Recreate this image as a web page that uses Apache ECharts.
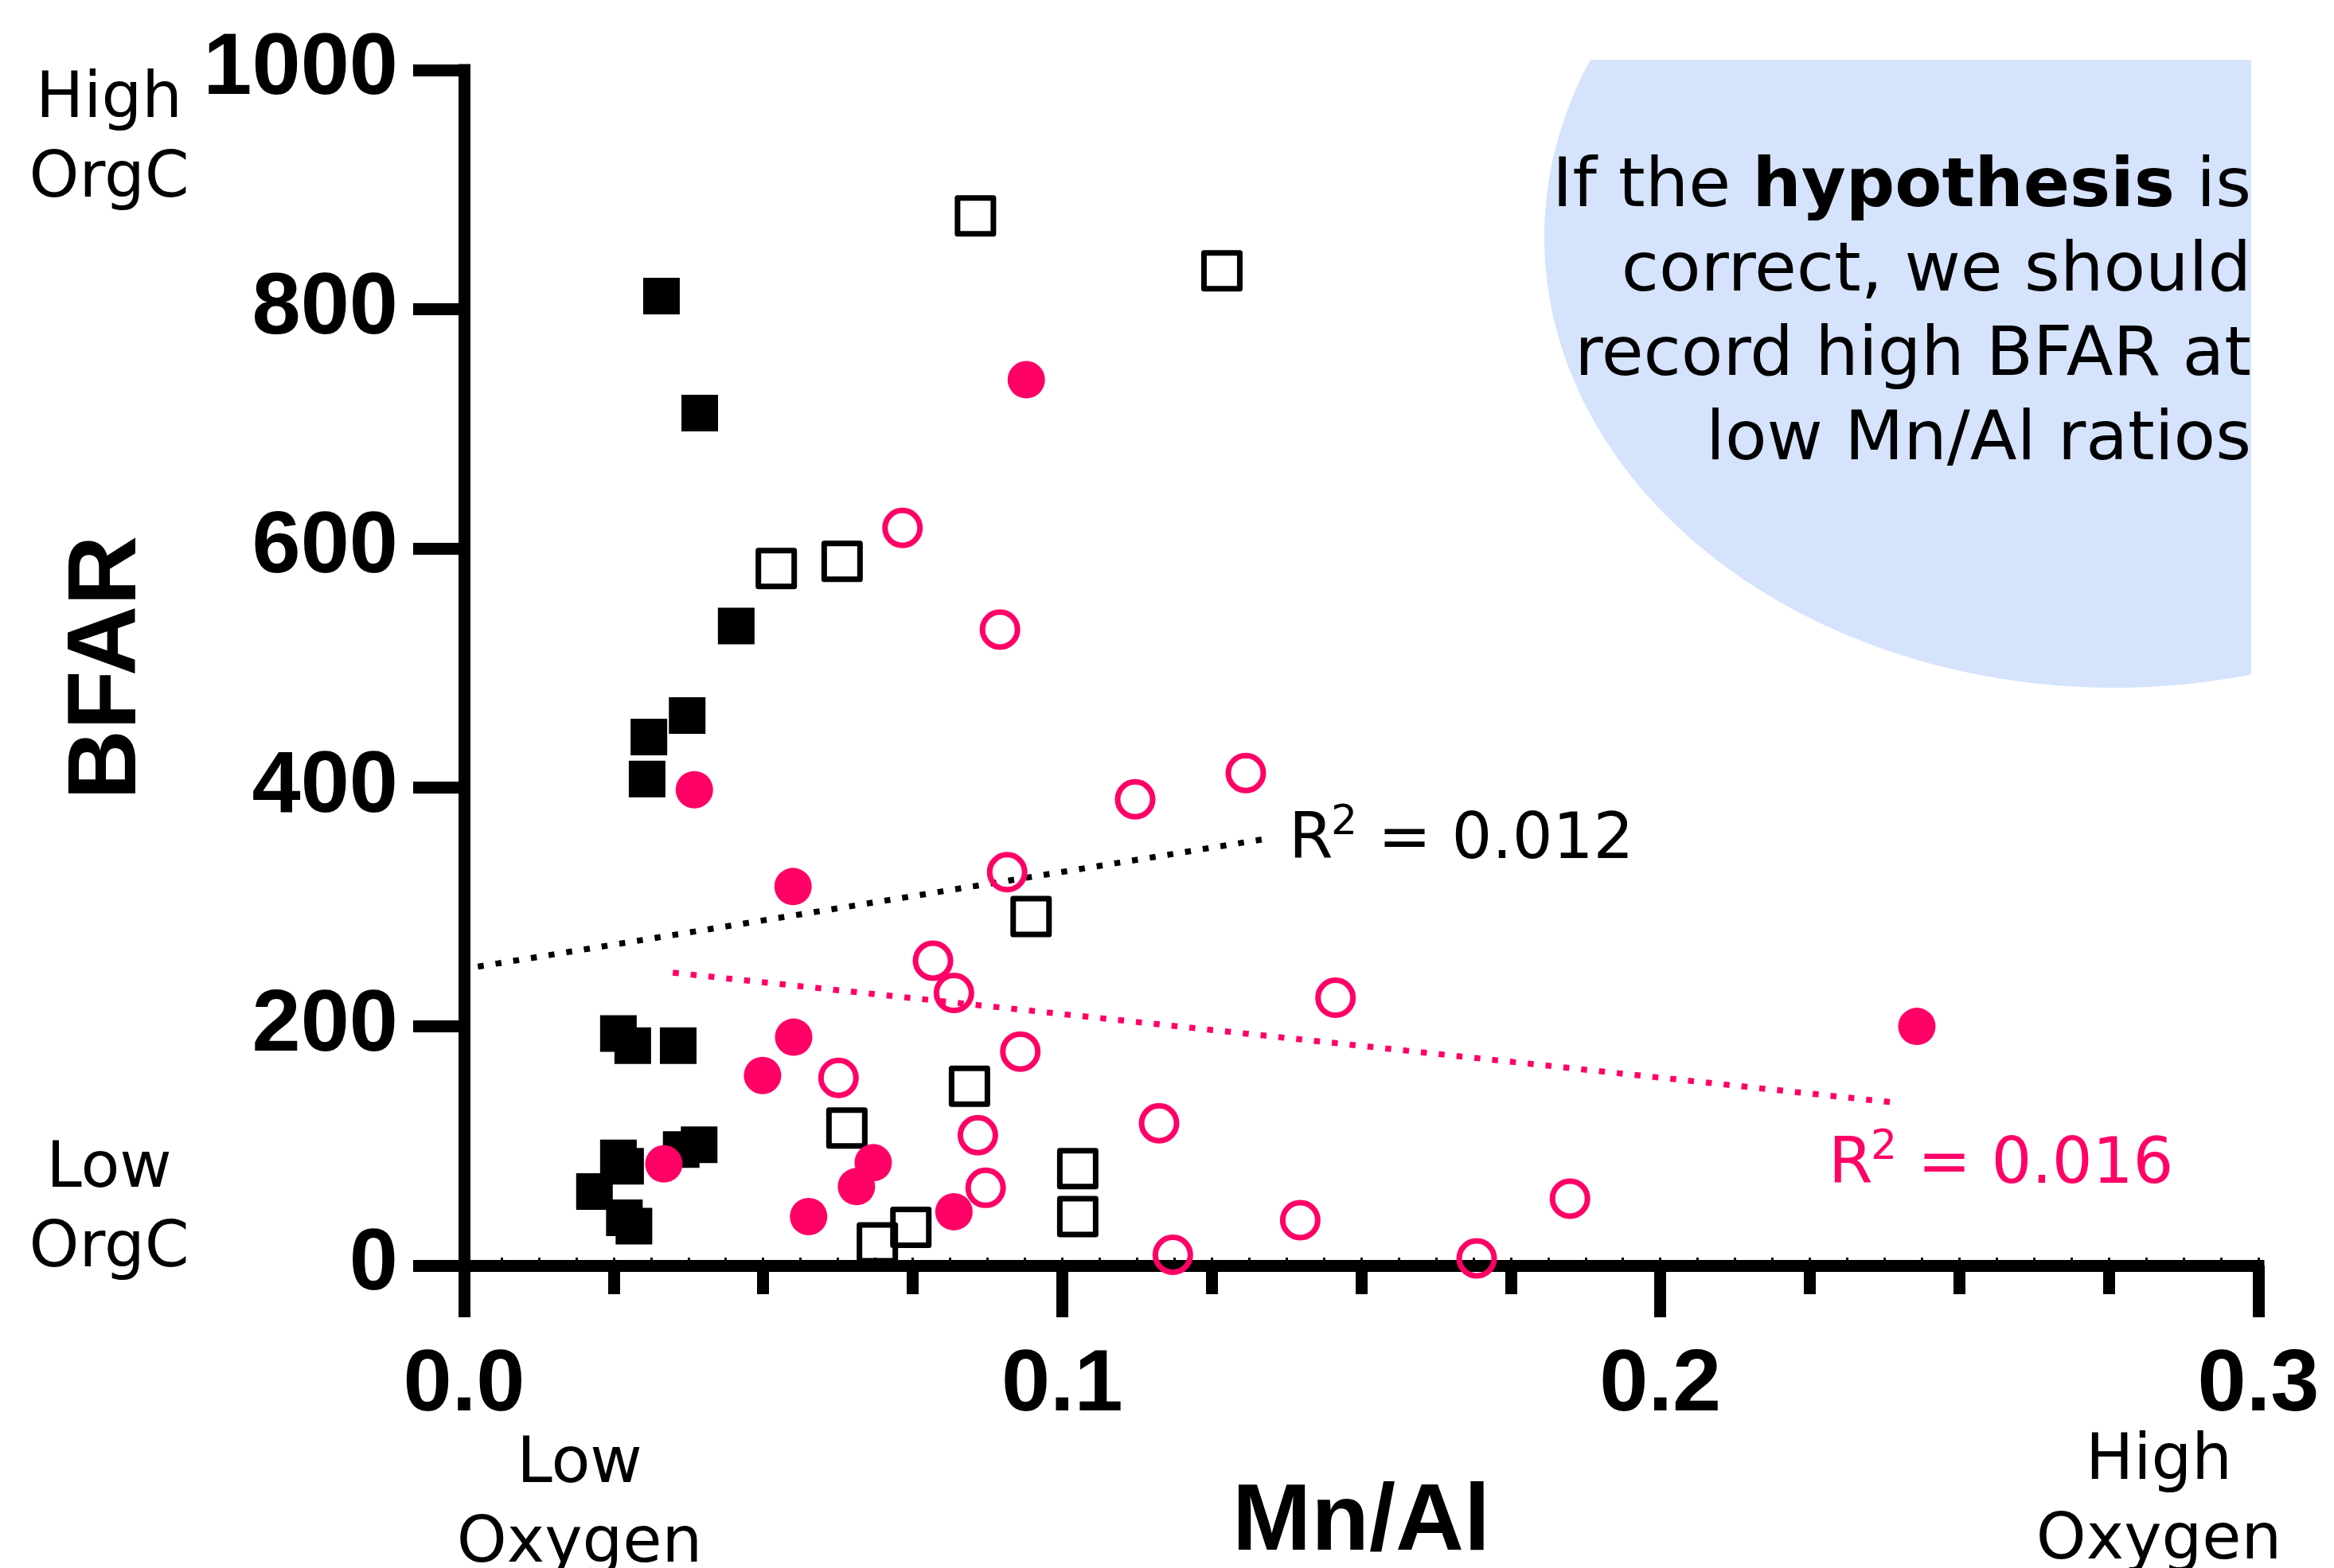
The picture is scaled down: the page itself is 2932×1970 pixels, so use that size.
<!DOCTYPE html>
<html><head><meta charset="utf-8">
<script src="https://cdn.jsdelivr.net/npm/echarts@6/dist/echarts.min.js"></script>
<style>html,body{margin:0;padding:0;background:#fff}#c{width:2932px;height:1970px}</style>
</head><body><div id="c"></div>
<script>
// ---- data ----
const xTickLabels = ['0.0', '0.1', '0.2', '0.3'];
const yTickLabels = ['0', '200', '400', '600', '800', '1000'];
const filledSquares = [[0.0330,811],[0.0394,713],[0.0455,535],[0.0373,460],[0.0309,442],[0.0306,407],
  [0.0258,194],[0.0282,184],[0.0358,184],[0.0258,90],[0.0270,83],[0.0363,97],[0.0393,101],
  [0.0218,62],[0.0268,40],[0.0284,33]];
const openSquares = [[0.0855,878],[0.1267,832],[0.0522,583],[0.0632,589],[0.0948,292],[0.0845,150],
  [0.0640,115],[0.1026,81],[0.1026,41],[0.0747,32],[0.0691,19]];
const filledCircles = [[0.0940,741],[0.0385,398],[0.0550,317],[0.0551,191],[0.0499,159],[0.0334,85],
  [0.0684,86],[0.0656,66],[0.0576,41],[0.0819,45],[0.2429,200]];
const openCircles = [[0.0733,617],[0.0896,532],[0.1122,390],[0.1307,412],[0.0908,329],[0.0784,255],
  [0.0819,228],[0.1457,224],[0.0930,179],[0.0626,157],[0.0859,109],[0.1162,119],[0.0872,65],
  [0.1185,9],[0.1398,38],[0.1693,6],[0.1849,56]];
const blackFit = [[0.0023,250],[0.1342,357]];
const pinkFit = [[0.0349,245],[0.2398,136]];
const blackR2 = '0.012';
const pinkR2 = '0.016';

const PINK = '#ff0066';
const chart = echarts.init(document.getElementById('c'), null, {renderer:'canvas'});

// decorative ellipse (clipped) behind the note
function ellipsePoly(cx, cy, rx, ry, maxX, minY) {
  const pts = [];
  for (let i = 0; i < 720; i++) {
    const t = i / 720 * Math.PI * 2;
    let x = cx + rx * Math.cos(t), y = cy + ry * Math.sin(t);
    pts.push([Math.min(x, maxX), Math.max(y, minY)]);
  }
  return pts;
}

const axisFont = 'Liberation Sans, Arial, sans-serif';
const noteFont = 'DejaVu Sans, Verdana, sans-serif';

function note(x, y, text) {
  return {type: 'text', z: 100, x: x, y: y, silent: true,
    style: {text: text, font: '80px ' + noteFont, lineHeight: 100, fill: '#000',
      align: 'center', textAlign: 'center', verticalAlign: 'top', textVerticalAlign: 'top'}};
}
function txt(x, y, text, size, color) {
  return {type: 'text', z: 100, x: x, y: y, silent: true,
    style: {text: text, font: size + 'px ' + noteFont, fill: color,
      align: 'left', textAlign: 'left', verticalAlign: 'middle', textVerticalAlign: 'middle'}};
}
function r2(x, y, value, color) {
  return [
    txt(x, y, 'R', 80, color),
    txt(x + 53, y - 23, '2', 52, color),
    txt(x + 112, y, '= ' + value, 80, color)
  ];
}

chart.setOption({
  animation: false,
  backgroundColor: '#fff',
  grid: {left: 583, right: 95, top: 88, bottom: 380, containLabel: false, outerBoundsMode: 'none'},
  xAxis: [{
    type: 'value', min: 0, max: 0.3, interval: 0.1,
    axisLine: {show: true, onZero: false, lineStyle: {color: '#000', width: 15, cap: 'square'}},
    axisTick: {show: true, length: 65, lineStyle: {color: '#000', width: 15}},
    minorTick: {show: true, splitNumber: 4, length: 36, lineStyle: {color: '#000', width: 15}},
    splitLine: {show: false}, minorSplitLine: {show: false},
    axisLabel: {margin: 97, fontSize: 110, fontWeight: 'bold', fontFamily: axisFont, color: '#000',
      showMinLabel: true, showMaxLabel: true,
      formatter: v => xTickLabels[Math.round(v * 10)]},
    name: 'Mn/Al', nameLocation: 'middle', nameGap: 265,
    nameTextStyle: {fontSize: 119, fontWeight: 'bold', fontFamily: axisFont, color: '#000'}
  }, {
    type: 'value', min: 0, max: 0.3, interval: 0.00625, position: 'bottom',
    axisLine: {show: false, onZero: false},
    axisTick: {show: true, inside: true, length: 10, lineStyle: {color: '#000', width: 3}},
    axisLabel: {show: false}, splitLine: {show: false}
  }],
  yAxis: {
    type: 'value', min: 0, max: 1000, interval: 200,
    axisLine: {show: true, onZero: false, lineStyle: {color: '#000', width: 15, cap: 'square'}},
    axisTick: {show: true, length: 64, lineStyle: {color: '#000', width: 15}},
    splitLine: {show: false},
    axisLabel: {margin: 83, fontSize: 110, fontWeight: 'bold', fontFamily: axisFont, color: '#000',
      formatter: v => yTickLabels[Math.round(v / 200)]},
    name: 'BFAR', nameLocation: 'middle', nameGap: 386, nameRotate: 90,
    nameTextStyle: {fontSize: 122, fontWeight: 'bold', fontFamily: axisFont, color: '#000'}
  },
  graphic: [
    {type: 'polygon', z: -10, silent: true,
      shape: {points: ellipsePoly(2656, 298, 716, 566, 2828, 75)},
      style: {fill: '#d5e3fd', stroke: null}},
    {type: 'text', z: 100, x: 2828, y: 184, silent: true,
      style: {
        text: '{n|If the }{b|hypothesis}{n| is}\n{n|correct, we should}\n{n|record high BFAR at}\n{n|low Mn/Al ratios}',
        align: 'right', textAlign: 'right', verticalAlign: 'top', textVerticalAlign: 'top',
        fill: '#000',
        rich: {
          n: {fontSize: 86, fontFamily: noteFont, lineHeight: 106, color: '#000'},
          b: {fontSize: 86, fontFamily: noteFont, fontWeight: 'bold', lineHeight: 106, color: '#000'}
        }
      }},
    note(137, 76, 'High\nOrgC'),
    note(137, 1420, 'Low\nOrgC'),
    note(728, 1791, 'Low\nOxygen'),
    note(2712, 1787, 'High\nOxygen'),
    ...r2(1619, 1057, blackR2, '#000'),
    ...r2(2297, 1465, pinkR2, PINK)
  ],
  series: [
    {type: 'line', data: blackFit, symbol: 'none', silent: true, z: 3,
      lineStyle: {color: '#000', width: 7.5, type: [7.5, 15], cap: 'butt', opacity: 1}},
    {type: 'line', data: pinkFit, symbol: 'none', silent: true, z: 3,
      lineStyle: {color: PINK, width: 7.5, type: [7.5, 15], cap: 'butt', opacity: 1}},
    {type: 'scatter', data: filledSquares, symbol: 'rect', symbolSize: 46, z: 4,
      itemStyle: {color: '#000', opacity: 1}},
    {type: 'scatter', data: openSquares, symbol: 'rect', symbolSize: 45, z: 4,
      itemStyle: {color: 'rgba(0,0,0,0)', borderColor: '#000', borderWidth: 7, borderJoin: 'round', opacity: 1}},
    {type: 'scatter', data: filledCircles, symbol: 'circle', symbolSize: 47, z: 4,
      itemStyle: {color: PINK, opacity: 1}},
    {type: 'scatter', data: openCircles, symbol: 'circle', symbolSize: 44, z: 4,
      itemStyle: {color: 'rgba(0,0,0,0)', borderColor: PINK, borderWidth: 7, opacity: 1}}
  ]
});
</script>
</body></html>
